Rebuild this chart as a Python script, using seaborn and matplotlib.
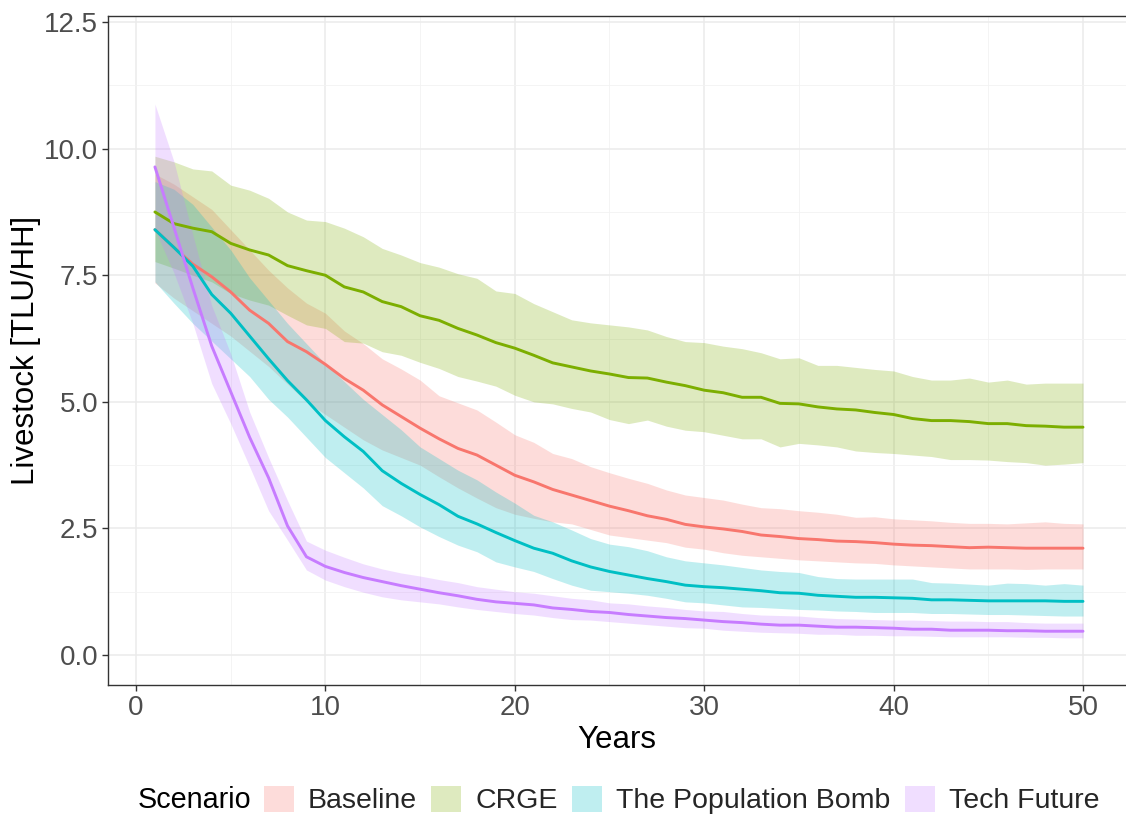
import numpy as np
import pandas as pd
import matplotlib
matplotlib.use("Agg")
import matplotlib.pyplot as plt
from matplotlib.patches import Patch
from matplotlib.ticker import MultipleLocator
import seaborn as sns

years = list(range(1, 51))
scenarios = ["Baseline", "CRGE", "The Population Bomb", "Tech Future"]
colors = ["#F8766D", "#7CAE00", "#00BFC4", "#C77CFF"]

baseline_mean = [8.40, 8.05, 7.72, 7.47, 7.17, 6.81, 6.55, 6.19, 5.99, 5.74,
                 5.46, 5.23, 4.94, 4.71, 4.48, 4.27, 4.08, 3.95, 3.75, 3.55,
                 3.42, 3.27, 3.16, 3.05, 2.94, 2.85, 2.75, 2.68, 2.58, 2.53,
                 2.49, 2.44, 2.37, 2.34, 2.30, 2.28, 2.25, 2.24, 2.22, 2.19,
                 2.17, 2.16, 2.14, 2.12, 2.13, 2.12, 2.11, 2.11, 2.11, 2.11]
baseline_upper = [9.50, 9.30, 9.05, 8.80, 8.40, 8.00, 7.60, 7.25, 6.95, 6.75,
                  6.40, 6.15, 5.85, 5.65, 5.43, 5.12, 4.98, 4.84, 4.60, 4.35,
                  4.20, 3.98, 3.88, 3.72, 3.60, 3.49, 3.39, 3.26, 3.16, 3.11,
                  3.06, 2.98, 2.91, 2.89, 2.85, 2.82, 2.78, 2.72, 2.73, 2.69,
                  2.67, 2.65, 2.62, 2.60, 2.60, 2.59, 2.61, 2.63, 2.60, 2.59]
baseline_lower = [7.35, 7.05, 6.80, 6.55, 6.30, 6.00, 5.70, 5.35, 5.00, 4.75,
                  4.50, 4.25, 4.05, 3.90, 3.75, 3.52, 3.30, 3.10, 2.91, 2.78,
                  2.70, 2.63, 2.59, 2.48, 2.37, 2.32, 2.27, 2.22, 2.13, 2.09,
                  2.02, 1.97, 1.94, 1.91, 1.88, 1.86, 1.84, 1.82, 1.81, 1.78,
                  1.76, 1.74, 1.72, 1.70, 1.70, 1.70, 1.69, 1.70, 1.70, 1.70]

crge_mean = [8.75, 8.52, 8.43, 8.36, 8.13, 8.00, 7.90, 7.69, 7.59, 7.50,
             7.27, 7.17, 6.98, 6.88, 6.70, 6.61, 6.45, 6.32, 6.17, 6.06,
             5.92, 5.77, 5.69, 5.61, 5.55, 5.48, 5.47, 5.39, 5.32, 5.23,
             5.18, 5.09, 5.09, 4.97, 4.96, 4.90, 4.86, 4.84, 4.79, 4.75,
             4.67, 4.63, 4.63, 4.61, 4.57, 4.57, 4.53, 4.52, 4.50, 4.50]
crge_upper = [9.85, 9.74, 9.60, 9.56, 9.28, 9.18, 9.02, 8.75, 8.59, 8.56,
              8.43, 8.26, 8.03, 7.90, 7.75, 7.66, 7.53, 7.44, 7.19, 7.14,
              6.94, 6.78, 6.62, 6.56, 6.52, 6.48, 6.42, 6.29, 6.19, 6.17,
              6.10, 6.05, 5.97, 5.85, 5.87, 5.72, 5.72, 5.68, 5.64, 5.61,
              5.50, 5.43, 5.43, 5.47, 5.39, 5.43, 5.35, 5.37, 5.37, 5.37]
crge_lower = [7.77, 7.64, 7.50, 7.37, 7.14, 7.01, 6.91, 6.71, 6.52, 6.45,
              6.19, 6.16, 5.99, 5.92, 5.78, 5.66, 5.50, 5.41, 5.31, 5.13,
              5.00, 4.96, 4.87, 4.80, 4.65, 4.57, 4.64, 4.52, 4.44, 4.41,
              4.34, 4.27, 4.27, 4.11, 4.18, 4.15, 4.11, 4.03, 4.00, 3.98,
              3.95, 3.92, 3.86, 3.86, 3.85, 3.82, 3.80, 3.75, 3.77, 3.80]

bomb_mean = [8.40, 8.05, 7.68, 7.12, 6.75, 6.30, 5.85, 5.42, 5.04, 4.63,
             4.31, 4.02, 3.64, 3.39, 3.17, 2.97, 2.74, 2.59, 2.42, 2.26,
             2.11, 2.01, 1.86, 1.74, 1.65, 1.58, 1.51, 1.45, 1.38, 1.35,
             1.33, 1.30, 1.27, 1.23, 1.22, 1.18, 1.16, 1.14, 1.14, 1.13,
             1.12, 1.09, 1.09, 1.08, 1.07, 1.07, 1.07, 1.07, 1.06, 1.06]
bomb_upper = [9.35, 9.20, 8.90, 8.45, 8.00, 7.45, 7.00, 6.55, 6.15, 5.75,
              5.40, 5.05, 4.75, 4.45, 4.11, 3.88, 3.65, 3.46, 3.22, 3.00,
              2.76, 2.63, 2.47, 2.30, 2.19, 2.14, 2.06, 1.94, 1.86, 1.82,
              1.78, 1.73, 1.68, 1.65, 1.63, 1.55, 1.51, 1.50, 1.50, 1.50,
              1.50, 1.43, 1.42, 1.40, 1.38, 1.42, 1.41, 1.38, 1.41, 1.38]
bomb_lower = [7.37, 6.95, 6.55, 6.20, 5.85, 5.50, 5.05, 4.70, 4.30, 3.90,
              3.60, 3.30, 2.95, 2.75, 2.53, 2.34, 2.17, 2.04, 1.84, 1.74,
              1.65, 1.51, 1.38, 1.28, 1.25, 1.22, 1.18, 1.12, 1.05, 1.03,
              0.99, 0.95, 0.94, 0.92, 0.90, 0.89, 0.87, 0.86, 0.84, 0.84,
              0.84, 0.82, 0.82, 0.81, 0.80, 0.80, 0.79, 0.78, 0.77, 0.77]

tech_mean = [9.64, 8.45, 7.25, 6.10, 5.20, 4.30, 3.50, 2.55, 1.94, 1.75,
             1.63, 1.53, 1.45, 1.37, 1.30, 1.23, 1.17, 1.10, 1.05, 1.02,
             0.99, 0.93, 0.90, 0.86, 0.84, 0.80, 0.77, 0.74, 0.72, 0.69,
             0.66, 0.64, 0.61, 0.59, 0.59, 0.57, 0.55, 0.55, 0.54, 0.53,
             0.51, 0.51, 0.49, 0.49, 0.49, 0.48, 0.48, 0.47, 0.47, 0.47]
tech_upper = [10.88, 9.75, 8.30, 6.90, 5.95, 4.80, 3.90, 3.05, 2.25, 2.07,
              1.93, 1.80, 1.70, 1.62, 1.56, 1.49, 1.43, 1.35, 1.30, 1.25,
              1.22, 1.17, 1.12, 1.09, 1.03, 1.01, 0.97, 0.94, 0.90, 0.87,
              0.86, 0.82, 0.79, 0.78, 0.77, 0.74, 0.72, 0.71, 0.70, 0.69,
              0.69, 0.68, 0.67, 0.67, 0.66, 0.66, 0.64, 0.63, 0.63, 0.63]
tech_lower = [8.40, 7.55, 6.55, 5.36, 4.57, 3.72, 2.85, 2.27, 1.68, 1.48,
              1.35, 1.24, 1.15, 1.09, 1.05, 1.01, 0.95, 0.90, 0.86, 0.82,
              0.79, 0.74, 0.70, 0.69, 0.66, 0.63, 0.60, 0.57, 0.54, 0.53,
              0.49, 0.47, 0.45, 0.44, 0.43, 0.41, 0.41, 0.39, 0.39, 0.38,
              0.38, 0.37, 0.36, 0.36, 0.36, 0.36, 0.35, 0.35, 0.34, 0.34]

y_ticks = [0.0, 2.5, 5.0, 7.5, 10.0, 12.5]
y_tick_labels = ["0.0", "2.5", "5.0", "7.5", "10.0", "12.5"]
x_ticks = [0, 10, 20, 30, 40, 50]

means = [baseline_mean, crge_mean, bomb_mean, tech_mean]
uppers = [baseline_upper, crge_upper, bomb_upper, tech_upper]
lowers = [baseline_lower, crge_lower, bomb_lower, tech_lower]

frames = []
for s, m, u, l in zip(scenarios, means, uppers, lowers):
    frames.append(pd.DataFrame({"Year": years, "Scenario": s,
                                "Mean": m, "Upper": u, "Lower": l}))
df = pd.concat(frames, ignore_index=True)

sns.set_theme(style="white")
plt.rcParams["font.family"] = ["Liberation Sans", "DejaVu Sans"]

fig = plt.figure(figsize=(11.26, 8.14), dpi=100)
ax = fig.add_axes([108 / 1126, 1 - 685 / 814, 1 - 108 / 1126, (685 - 16) / 814])

palette = dict(zip(scenarios, colors))
for s in scenarios:
    d = df[df["Scenario"] == s]
    ax.fill_between(d["Year"], d["Lower"], d["Upper"], color=palette[s],
                    alpha=0.25, linewidth=0, zorder=2)
sns.lineplot(data=df, x="Year", y="Mean", hue="Scenario", palette=palette,
             hue_order=scenarios, linewidth=2.1, legend=False, ax=ax, zorder=3)

ax.set_xlim(-1.478, 52.27)
ax.set_ylim(-0.592, 12.62)
ax.set_xticks(x_ticks)
ax.set_yticks(y_ticks)
ax.set_yticklabels(y_tick_labels)
ax.xaxis.set_minor_locator(MultipleLocator(5))
ax.yaxis.set_minor_locator(MultipleLocator(1.25))
ax.grid(which="major", color="#EBEBEB", linewidth=1.1, zorder=0)
ax.grid(which="minor", color="#F2F2F2", linewidth=0.6, zorder=0)
ax.set_axisbelow(True)

for side in ["left", "bottom", "top"]:
    ax.spines[side].set_visible(True)
    ax.spines[side].set_color("#333333")
    ax.spines[side].set_linewidth(1.0)
ax.spines["right"].set_visible(False)

ax.tick_params(axis="both", which="major", length=4, width=1.0, color="#333333",
               labelsize=20, labelcolor="#4D4D4D", pad=3, bottom=True, left=True)
ax.tick_params(axis="both", which="minor", length=0)

ax.set_xlabel("Years", fontsize=22.5, color="black", labelpad=3)
ax.set_ylabel("Livestock [TLU/HH]", fontsize=22.5, color="black", labelpad=2.5)

handles = [Patch(facecolor=c, alpha=0.25, edgecolor="none") for c in colors]
fig.text(138 / 1126, 1 - 800 / 814, "Scenario", fontsize=20.7, color="black",
         ha="left", va="center")
fig.legend(handles, scenarios, loc="center left",
           bbox_to_anchor=(264 / 1126, 1 - 800 / 814), ncol=4, frameon=False,
           fontsize=20.5, handlelength=1.05, handleheight=1.05,
           handletextpad=0.48, columnspacing=0.52, borderpad=0, borderaxespad=0)

fig.savefig("out.png", dpi=100)
